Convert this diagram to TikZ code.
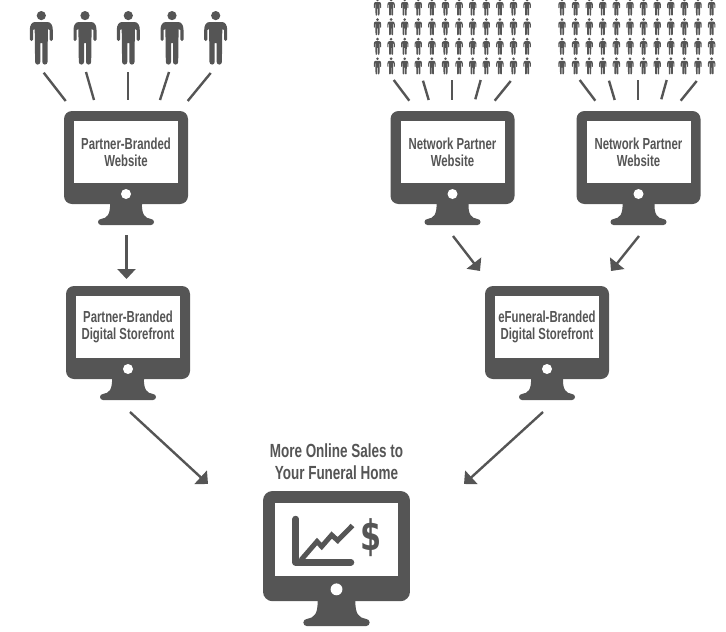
\documentclass[tikz,border=0pt]{standalone}
\usepackage{fontspec}
\setmainfont[FakeStretch=0.71]{Liberation Sans}
\newfontfamily\dollarfont[FakeStretch=0.72]{DejaVu Sans}
\usetikzlibrary{arrows.meta}
\definecolor{ink}{HTML}{555555}
\tikzset{
  screenbox/.style={fill=white,inner sep=0pt,text=ink,align=center,font=\bfseries\fontsize{16}{17}\selectfont},
  titletext/.style={text=ink,align=center,inner sep=0pt,font=\bfseries\fontsize{19}{22}\selectfont},
  spoke/.style={draw=ink,line width=2.4pt},
  flow/.style={draw=ink,line width=2.4pt,-{Triangle[width=18pt,length=10pt]}},
}
\newcommand{\monitorbody}[4]{% name, cx, top, scale
  \begin{scope}[shift={(#2,#3)},scale=#4]
    \fill[ink,rounded corners=8pt*#4] (-62,0) rectangle (62,93);
    \fill[ink] (-16,92) .. controls (-15.5,104) and (-19,107) .. (-25,108)
      arc[start angle=270,end angle=90,radius=3] -- (25,114)
      arc[start angle=90,end angle=-90,radius=3]
      .. controls (19,107) and (15.5,104) .. (16,92) -- cycle;
    \fill[white] (0,83) circle[radius=5];
    \coordinate (#1-c) at (0,41);
  \end{scope}
}
\newcommand{\personshape}[3]{% x, y of head top, scale
  \begin{scope}[shift={(#1,#2)},scale=#3]
    \fill[ink] (0,4.6) circle[radius=4.6];
    \fill[ink] (-6,11) -- (6,11) .. controls (9.5,11) and (11.5,14) .. (11.5,19)
      -- (11.5,28.5) arc[start angle=0,end angle=180,radius=1.6]
      -- (8.3,19) -- (6.6,18) -- (6.2,51) arc[start angle=0,end angle=180,radius=2.6]
      -- (1,32) -- (-1,32) -- (-1,51) arc[start angle=0,end angle=180,radius=2.6]
      -- (-6.6,18) -- (-8.3,19) -- (-8.3,28.5) arc[start angle=0,end angle=180,radius=1.6]
      -- (-11.5,19) .. controls (-11.5,14) and (-9.5,11) .. (-6,11) -- cycle;
  \end{scope}
}
\begin{document}
\begin{tikzpicture}[x=1pt,y=-1pt]
\useasboundingbox (0,0) rectangle (726,632);
\clip (0,0) rectangle (726,632);
% people
\foreach \px in {41.3,85,128.3,172,215.7} {\personshape{\px}{11}{1}}
\foreach \gx in {0,184.5} {
  \foreach \k in {0,...,11} {
    \foreach \ry in {-1.5,18.1,37.7,57.3} {
      \personshape{377.5+\gx+13.6*\k}{\ry}{0.32}
    }
  }
}
% monitors
\monitorbody{m1}{126}{111}{1}
\monitorbody{m2}{452.5}{111}{1}
\monitorbody{m3}{638.5}{111}{1}
\monitorbody{m4}{128}{286}{1}
\monitorbody{m5}{547}{286}{1}
\monitorbody{m6}{336.5}{491}{1.185}
\node[screenbox,minimum width=104pt,minimum height=62pt] (s1) at (m1-c) {Partner-Branded\\Website};
\node[screenbox,minimum width=104pt,minimum height=62pt] (s2) at (m2-c) {Network Partner\\Website};
\node[screenbox,minimum width=104pt,minimum height=62pt] (s3) at (m3-c) {Network Partner\\Website};
\node[screenbox,minimum width=104pt,minimum height=62pt] (s4) at (m4-c) {Partner-Branded\\Digital Storefront};
\node[screenbox,minimum width=104pt,minimum height=62pt] (s5) at (m5-c) {eFuneral-Branded\\Digital Storefront};
\node[screenbox,minimum width=123pt,minimum height=73pt] (s6) at (m6-c) {};
\node[titletext] (title) at (336.5,462) {More Online Sales to\\Your Funeral Home};
% chart in the big monitor
\coordinate (ax1) at (295.7,519); \coordinate (ax2) at (295.7,562.3); \coordinate (ax3) at (351,562.3);
\draw[ink,line width=6.5pt,line cap=round,line join=round] (ax1) -- (ax2) -- (ax3);
\draw[ink,line width=5pt,line join=miter] (301,560) -- (317,541.5) -- (321.7,546.5) -- (331.7,535) -- (337.7,540.5) -- (352.5,525.5);
\node[text=ink,inner sep=0pt,font=\dollarfont\bfseries\fontsize{42}{42}\selectfont] (dollar) at (371,538) {\$};
% spokes
\foreach \n/\ax/\ay/\bx/\by in {a/43.7/72.7/65.7/101,b/86/72/94/100,c/127.7/72/127.7/100,d/169/72/160/100,e/210.7/73/187.7/101,
  f/393.7/80/409.3/100.7,g/423/80.7/428.7/100,h/452/80/452/100,i/480.7/80/475.3/99.3,j/510.7/81/494.7/100.7,
  k/579.7/80/595.3/100.7,l/609/80.7/614.7/100,m/638/80/638/100,n/666.7/80/661.3/99.3,o/696.7/81/680.7/100.7} {
  \coordinate (\n1) at (\ax,\ay);
  \coordinate (\n2) at (\bx,\by);
  \draw[spoke] (\n1) -- (\n2);
}
% arrows
\coordinate (f1a) at (126.5,235); \coordinate (f1b) at (126.5,279);
\coordinate (f2a) at (453,236); \coordinate (f2b) at (480,271);
\coordinate (f3a) at (639,236); \coordinate (f3b) at (611,271);
\coordinate (f4a) at (130,412); \coordinate (f4b) at (208,484);
\coordinate (f5a) at (543,412); \coordinate (f5b) at (464,484);
\draw[flow] (f1a) -- (f1b);
\draw[flow] (f2a) -- (f2b);
\draw[flow] (f3a) -- (f3b);
\draw[flow] (f4a) -- (f4b);
\draw[flow] (f5a) -- (f5b);
\end{tikzpicture}
\end{document}
